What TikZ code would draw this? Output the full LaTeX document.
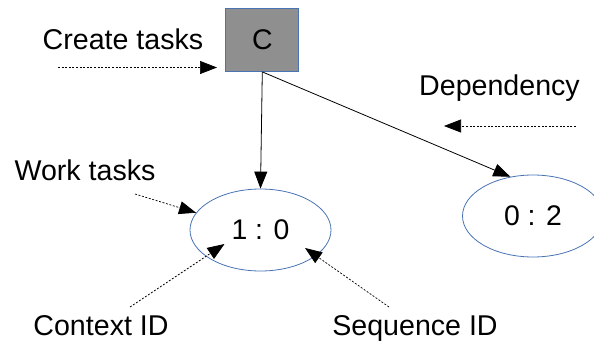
\documentclass[tikz,border=0pt]{standalone}
\usepackage{fontspec}
\setmainfont{Liberation Sans}
\usetikzlibrary{arrows.meta,shapes.geometric}
\definecolor{edgeblue}{HTML}{4A73B4}
\definecolor{boxgray}{HTML}{8F8F8F}
\tikzset{
  lbl/.style={font=\fontsize{28.6}{30}\selectfont, inner sep=0pt, anchor=base},
  ellnode/.style={ellipse, draw=edgeblue, line width=0.8pt, minimum width=141pt, minimum height=82pt, inner sep=0pt, font=\fontsize{28.4}{30}\selectfont},
  boxnode/.style={rectangle, draw=edgeblue, fill=boxgray, line width=0.8pt, minimum width=73pt, minimum height=63pt, inner sep=0pt, font=\fontsize{28.4}{30}\selectfont},
  solidarrow/.style={line width=0.8pt, -{Triangle[length=17pt,width=13pt]}},
  dotarrow/.style={line width=0.7pt, dash pattern=on 2pt off 1.6pt, -{Triangle[length=17pt,width=13pt]}}
}
\begin{document}
\begin{tikzpicture}[x=1pt,y=-1pt]
\useasboundingbox (0,0) rectangle (594,342);
\clip (0,0) rectangle (594,342);
\node[boxnode] (C) at (262.3,40) {C};
\node[ellnode] (e1) at (260.5,230) {1 : 0};
\node[ellnode] (e2) at (533,216) {0 : 2};
% labels
\node[lbl] (tcreate) at (123,50) {Create tasks};
\node[lbl] (tdep) at (499.5,95.5) {Dependency};
\node[lbl] (twork) at (85,180.5) {Work tasks};
\node[lbl] (tctx) at (101,335) {Context ID};
\node[lbl] (tseq) at (415,335) {Sequence ID};
% free ends
\coordinate (cs) at (58,67.5);
\coordinate (ct) at (217,67.5);
\coordinate (ds) at (576,126);
\coordinate (dt) at (444,126);
\coordinate (ws) at (135,194);
\coordinate (ctxs) at (130,307);
\coordinate (ctxt) at ([shift={(-36,14)}]e1.center);
\coordinate (seqs) at (389,307);
\coordinate (seqt) at ([shift={(44.5,18)}]e1.center);
% connectors
\draw[solidarrow] (C.south) -- (e1.north);
\draw[solidarrow] (C.south) -- (e2.120.7);
\draw[dotarrow] (cs) -- (ct);
\draw[dotarrow] (ds) -- (dt);
\draw[dotarrow] (ws) -- (e1.165);
\draw[dotarrow] (ctxs) -- (ctxt);
\draw[dotarrow] (seqs) -- (seqt);
\end{tikzpicture}
\end{document}
